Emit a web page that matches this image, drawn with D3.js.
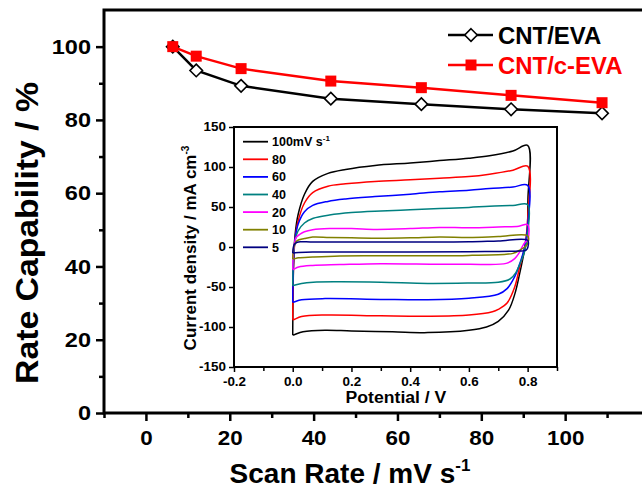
<!DOCTYPE html>
<html>
<head>
<meta charset="utf-8">
<script src="https://cdn.jsdelivr.net/npm/d3@7/dist/d3.min.js"></script>
<style>
body { margin: 0; background: #fff; }
svg text { font-family: "Liberation Sans", Arial, sans-serif; font-weight: bold; }
</style>
</head>
<body>
<div id="chart"></div>
<script>
// main plot: rate capability vs scan rate (x read against the drawn axis)
var scanRate = [6.4, 12.0, 22.7, 44.1, 65.7, 87.1, 108.8];
var cntEva   = [100, 93.5, 89.3, 85.8, 84.3, 82.9, 81.8];
var cntCEva  = [100, 97.4, 94.0, 90.6, 88.8, 86.7, 84.7];
var seriesNames = ["CNT/EVA", "CNT/c-EVA"];
var mainXTicks = [0, 20, 40, 60, 80, 100];
var mainXMinor = [-10, 10, 30, 50, 70, 90, 110];
var mainYTicks = [0, 20, 40, 60, 80, 100];
var mainYMinor = [10, 30, 50, 70, 90];

// inset: CV curves [potential V, current density mA cm-3], forward then reverse scan
var cvRates  = ["100", "80", "60", "40", "20", "10", "5"];
var cvColors = ["#000000", "#ff0000", "#0000ff", "#008080", "#ff00ff", "#808000", "#000080"];
var cv100 = [[0,-110],[0.003,-20],[0.008,15],[0.018,40],[0.04,66],[0.068,82],[0.12,92],[0.18,97],[0.28,102],[0.4,105],[0.5,108],[0.6,111],[0.67,114],[0.75,120],[0.8,127],
             [0.801,60],[0.797,10],[0.785,-12],[0.773,-33],[0.757,-58],[0.735,-79],[0.7,-93],[0.66,-100],[0.6,-104],[0.46,-107],[0.34,-106],[0.2,-105],[0.11,-104],[0.035,-106],[0.002,-110],[0,-110]];
var cv80  = [[0,-91],[0.003,-20],[0.008,10],[0.018,32],[0.04,55],[0.068,68],[0.12,76],[0.18,79],[0.28,82],[0.4,84],[0.5,86],[0.6,88],[0.67,91],[0.75,96],[0.8,101],
             [0.801,40],[0.79,0],[0.773,-25],[0.756,-50],[0.73,-70],[0.7,-78],[0.68,-81],[0.6,-85],[0.46,-86.5],[0.3,-86],[0.11,-85],[0.03,-87],[0.002,-91],[0,-91]];
var cv60  = [[0,-69],[0.003,-15],[0.008,10],[0.018,28],[0.04,44],[0.068,52],[0.12,57],[0.18,60],[0.28,63],[0.4,66],[0.5,69],[0.6,71],[0.67,73],[0.75,75],[0.8,77],
             [0.801,30],[0.79,0],[0.773,-21],[0.756,-37],[0.73,-52],[0.7,-59],[0.6,-64],[0.46,-66],[0.3,-65.5],[0.11,-64.5],[0.03,-66],[0.002,-69],[0,-69]];
var cv40  = [[0,-48],[0.003,-10],[0.008,8],[0.018,20],[0.04,30],[0.07,36],[0.125,40],[0.2,43],[0.3,45],[0.4,46.5],[0.5,48],[0.6,49.5],[0.67,51],[0.75,52],[0.8,53],
             [0.801,20],[0.79,-5],[0.775,-20],[0.76,-32],[0.74,-40],[0.7,-44],[0.6,-45],[0.46,-45.5],[0.3,-44],[0.15,-43.5],[0.07,-44],[0.03,-45.5],[0.002,-48],[0,-48]];
var cv20  = [[0,-28],[0.004,0],[0.012,12],[0.025,16],[0.04,19],[0.068,21.5],[0.125,23],[0.2,23],[0.284,22],[0.4,23],[0.5,24.5],[0.6,24],[0.7,25],[0.77,26],[0.8,28],
             [0.801,10],[0.787,4],[0.773,-6],[0.756,-14.5],[0.727,-20.5],[0.6,-21.5],[0.5,-21.6],[0.3,-20.8],[0.16,-22],[0.068,-23],[0.02,-25],[0.002,-28],[0,-28]];
var cv10  = [[0,-15],[0.005,2],[0.015,8],[0.04,10.5],[0.068,12.5],[0.125,12],[0.2,11.5],[0.3,11],[0.4,11.5],[0.5,12.5],[0.6,12],[0.7,13],[0.8,14],
             [0.801,5],[0.79,0],[0.773,-4],[0.75,-8],[0.727,-9],[0.6,-10.5],[0.5,-11],[0.3,-11],[0.16,-11.2],[0.068,-12.5],[0.02,-13.5],[0.002,-15],[0,-15]];
var cv5   = [[0,-7.5],[0.005,3],[0.015,6],[0.03,6.5],[0.06,6.3],[0.16,6.3],[0.3,6.3],[0.5,6.3],[0.6,6.5],[0.7,7.5],[0.8,8.4],
             [0.801,0],[0.795,-4],[0.773,-5],[0.6,-5.8],[0.4,-6.2],[0.16,-6.3],[0.068,-6.3],[0.02,-7],[0.002,-7.5],[0,-7.5]];
var cvCurves = [cv100, cv80, cv60, cv40, cv20, cv10, cv5];
var insetXTicks = [-0.2, 0, 0.2, 0.4, 0.6, 0.8];
var insetXMinor = [-0.1, 0.1, 0.3, 0.5, 0.7, 0.9];
var insetYTicks = [-150, -100, -50, 0, 50, 100, 150];

var W = 642, H = 495;
var svg = d3.select("#chart").append("svg").attr("width", W).attr("height", H);

// the original lettering is a little wider than Liberation Sans
function stretch(sel, f) {
  sel.each(function() {
    var w = this.getComputedTextLength();
    d3.select(this).attr("textLength", w * f).attr("lengthAdjust", "spacingAndGlyphs");
  });
}
function hyphen(fmt) {
  return function(d) { return fmt(d).replace("\u2212", "-"); };
}

// ---- main plot ----
var x = d3.scaleLinear().domain([-10, 120]).range([104, 649]);
var y = d3.scaleLinear().domain([0, 110]).range([413, 10]);

svg.append("rect")
  .attr("x", x(-10)).attr("y", y(110))
  .attr("width", x(120) - x(-10)).attr("height", y(0) - y(110))
  .attr("fill", "none").attr("stroke", "#000").attr("stroke-width", 3);

function styleAxis(g, sw, fs) {
  g.select(".domain").remove();
  g.selectAll("line").attr("stroke", "#000").attr("stroke-width", sw);
  g.selectAll("text").attr("fill", "#000").style("font-size", fs + "px");
}

svg.append("g").attr("transform", "translate(0," + y(0) + ")")
  .call(d3.axisBottom(x).tickValues(mainXTicks).tickSize(8).tickPadding(10))
  .call(styleAxis, 2.5, 20)
  .call(function(g) { stretch(g.selectAll("text"), 1.12); });
svg.append("g").attr("transform", "translate(0," + y(0) + ")")
  .call(d3.axisBottom(x).tickValues(mainXMinor).tickSize(5).tickFormat(""))
  .call(styleAxis, 2.5, 20);
svg.append("g").attr("transform", "translate(" + x(-10) + ",0)")
  .call(d3.axisLeft(y).tickValues(mainYTicks).tickSize(8).tickPadding(5))
  .call(styleAxis, 2.5, 21)
  .call(function(g) { stretch(g.selectAll("text"), 1.12); });
svg.append("g").attr("transform", "translate(" + x(-10) + ",0)")
  .call(d3.axisLeft(y).tickValues(mainYMinor).tickSize(5).tickFormat(""))
  .call(styleAxis, 2.5, 21);

svg.append("text")
  .attr("transform", "translate(38,233) rotate(-90)")
  .attr("text-anchor", "middle").style("font-size", "31px")
  .attr("textLength", 302).attr("lengthAdjust", "spacingAndGlyphs")
  .text("Rate Capability / %");

var xt = svg.append("text").attr("x", 350).attr("y", 483)
  .attr("text-anchor", "middle").style("font-size", "28px");
xt.append("tspan").text("Scan Rate / mV s");
xt.append("tspan").attr("dy", -12).style("font-size", "17px").text("-1");

var diamond = d3.symbol().type(d3.symbolDiamond2).size(100);
var square = d3.symbol().type(d3.symbolSquare).size(121);

function linePts(vals) { return vals.map(function(v, i) { return [scanRate[i], v]; }); }
var line = d3.line().x(function(d) { return x(d[0]); }).y(function(d) { return y(d[1]); });

// CNT/EVA
svg.append("path").datum(linePts(cntEva)).attr("d", line)
  .attr("fill", "none").attr("stroke", "#000").attr("stroke-width", 2.5);
svg.selectAll(".dia").data(linePts(cntEva)).enter().append("path")
  .attr("transform", function(d) { return "translate(" + x(d[0]) + "," + y(d[1]) + ")"; })
  .attr("d", diamond).attr("fill", "#fff").attr("stroke", "#000").attr("stroke-width", 1.6);
// CNT/c-EVA
svg.append("path").datum(linePts(cntCEva)).attr("d", line)
  .attr("fill", "none").attr("stroke", "#ff0000").attr("stroke-width", 2.5);
svg.selectAll(".sq").data(linePts(cntCEva)).enter().append("path")
  .attr("transform", function(d) { return "translate(" + x(d[0]) + "," + y(d[1]) + ")"; })
  .attr("d", square).attr("fill", "#ff0000");

// main legend
var legY = [35, 65], legCol = ["#000", "#ff0000"];
seriesNames.forEach(function(n, i) {
  svg.append("line").attr("x1", 448).attr("x2", 493).attr("y1", legY[i]).attr("y2", legY[i])
    .attr("stroke", legCol[i]).attr("stroke-width", 2.5);
  svg.append("path").attr("transform", "translate(471," + legY[i] + ")")
    .attr("d", i === 0 ? diamond : square)
    .attr("fill", i === 0 ? "#fff" : "#ff0000")
    .attr("stroke", i === 0 ? "#000" : "none").attr("stroke-width", 1.6);
  svg.append("text").attr("x", 498).attr("y", legY[i] + 8.5)
    .attr("fill", legCol[i]).style("font-size", "23px").text(n)
    .call(stretch, 1.04);
});

// ---- inset ----
var ix = d3.scaleLinear().domain([-0.2, 0.9]).range([234, 557]);
var iy = d3.scaleLinear().domain([-150, 150]).range([367, 127]);

svg.append("rect")
  .attr("x", ix(-0.2)).attr("y", iy(150))
  .attr("width", ix(0.9) - ix(-0.2)).attr("height", iy(-150) - iy(150))
  .attr("fill", "#fff").attr("stroke", "#000").attr("stroke-width", 2);

var cvLine = d3.line().curve(d3.curveCatmullRom.alpha(0.5))
  .x(function(d) { return ix(d[0]); }).y(function(d) { return iy(d[1]); });
cvCurves.forEach(function(c, i) {
  svg.append("path").datum(c).attr("d", cvLine)
    .attr("fill", "none").attr("stroke", cvColors[i]).attr("stroke-width", 1.5);
});

svg.append("g").attr("transform", "translate(0," + iy(-150) + ")")
  .call(d3.axisBottom(ix).tickValues(insetXTicks).tickSize(5).tickPadding(5)
    .tickFormat(hyphen(d3.format(".1f"))))
  .call(styleAxis, 1.5, 12)
  .call(function(g) { stretch(g.selectAll("text"), 1.12); });
svg.append("g").attr("transform", "translate(0," + iy(-150) + ")")
  .call(d3.axisBottom(ix).tickValues(insetXMinor).tickSize(4).tickFormat(""))
  .call(styleAxis, 1.5, 12);
svg.append("g").attr("transform", "translate(" + ix(-0.2) + ",0)")
  .call(d3.axisLeft(iy).tickValues(insetYTicks).tickSize(5).tickPadding(3)
    .tickFormat(hyphen(d3.format("d"))))
  .call(styleAxis, 1.5, 12)
  .call(function(g) { stretch(g.selectAll("text"), 1.12); });

svg.append("text").attr("x", 396).attr("y", 403)
  .attr("text-anchor", "middle").style("font-size", "16px").text("Potential / V")
  .call(stretch, 1.1);
var iyt = svg.append("text")
  .attr("transform", "translate(196,248) rotate(-90)")
  .attr("text-anchor", "middle").style("font-size", "17px");
iyt.append("tspan").text("Current density / mA cm");
iyt.append("tspan").attr("dy", -7).style("font-size", "10px").text("-3");

// inset legend
cvRates.forEach(function(r, i) {
  var ly = 141.7 + i * 17.6;
  svg.append("line").attr("x1", 243).attr("x2", 268).attr("y1", ly).attr("y2", ly)
    .attr("stroke", cvColors[i]).attr("stroke-width", 1.8);
  var t = svg.append("text").attr("x", 272).attr("y", ly + 4.5).style("font-size", "12.5px");
  if (i === 0) {
    t.append("tspan").text(r + "mV s");
    t.append("tspan").attr("dy", -5).style("font-size", "8px").text("-1");
  } else {
    t.text(r);
  }
});
</script>
</body>
</html>
